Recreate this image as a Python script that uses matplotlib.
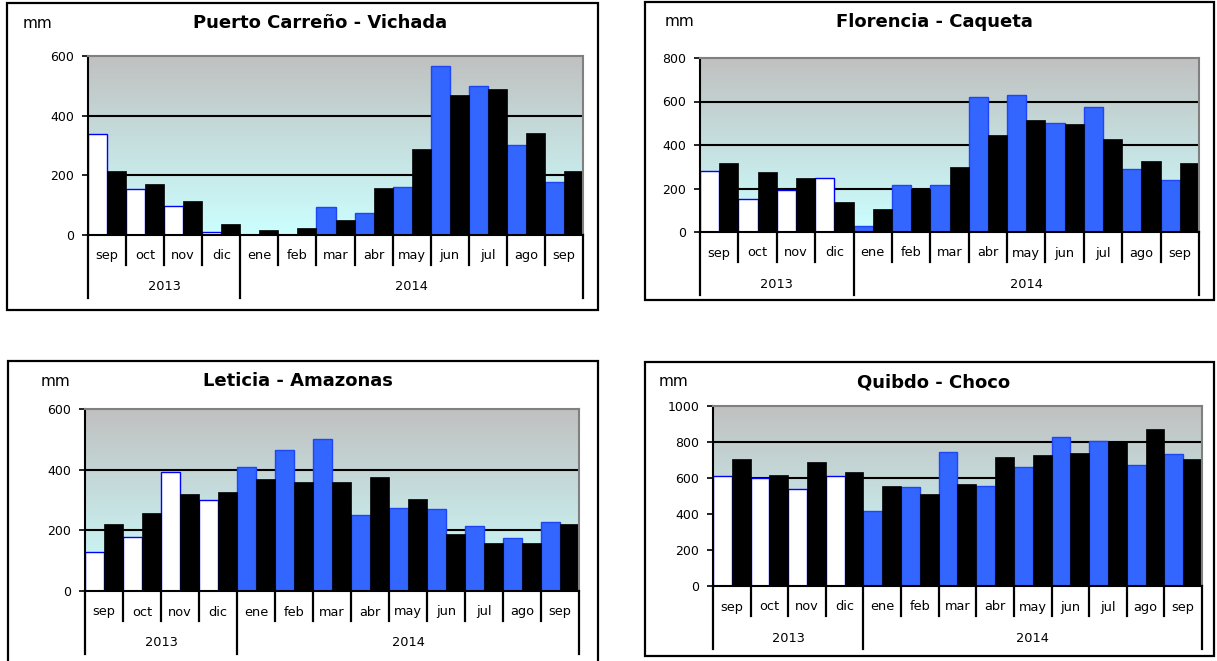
import numpy as np
import matplotlib
matplotlib.use("Agg")
import matplotlib.pyplot as plt
from matplotlib.colors import LinearSegmentedColormap
from matplotlib.patches import Rectangle

plt.rcParams['font.family'] = ['DejaVu Sans']

# Months shown on every panel (Sep 2013 - Sep 2014)
months = ["sep", "oct", "nov", "dic", "ene", "feb", "mar", "abr",
          "may", "jun", "jul", "ago", "sep"]
years = ["2013", "2014"]
months_per_year = [4, 9]

# Observed monthly rainfall (mm); first four months are the previous season
puerto_obs = [340, 154, 98, 9, 0, 0, 93, 75, 162, 568, 499, 302, 179]
puerto_avg = [215, 170, 114, 37, 17, 23, 49, 159, 289, 469, 490, 342, 215]

florencia_obs = [282, 153, 195, 247, 28, 216, 216, 622, 630, 503, 573, 290, 241]
florencia_avg = [319, 277, 248, 139, 107, 199, 300, 446, 513, 498, 428, 328, 317]

leticia_obs = [129, 179, 393, 299, 408, 465, 502, 250, 275, 269, 214, 175, 228]
leticia_avg = [221, 258, 320, 327, 370, 360, 360, 377, 304, 188, 159, 159, 221]

quibdo_obs = [609, 600, 537, 609, 417, 550, 746, 557, 661, 826, 807, 672, 735]
quibdo_avg = [704, 615, 687, 633, 554, 509, 565, 715, 726, 737, 807, 870, 704]

panels = [
    dict(title="Puerto Carreño - Vichada", obs=puerto_obs, avg=puerto_avg,
         ymax=600, step=200,
         frame=(7, 3, 598, 310), plot=(88, 56, 583, 235), title_x=320, mm_x=37),
    dict(title="Florencia - Caqueta", obs=florencia_obs, avg=florencia_avg,
         ymax=800, step=200,
         frame=(645, 2, 1214, 300), plot=(700, 58, 1199, 232), title_x=934, mm_x=680),
    dict(title="Leticia - Amazonas", obs=leticia_obs, avg=leticia_avg,
         ymax=600, step=200,
         frame=(8, 361, 598, 680), plot=(85, 409, 579, 591), title_x=298, mm_x=56),
    dict(title="Quibdo - Choco", obs=quibdo_obs, avg=quibdo_avg,
         ymax=1000, step=200,
         frame=(645, 362, 1214, 656), plot=(713, 406, 1202, 586), title_x=934, mm_x=673),
]

W, H = 1217, 661
fig = plt.figure(figsize=(W / 100, H / 100), dpi=100)
fig.patch.set_facecolor("white")

bg_cmap = LinearSegmentedColormap.from_list("bg", ["#CCFFFF", "#C0C0C0"])
BLUE = "#3366FF"
BLUE_EDGE = "#1E46F5"
WHITE_EDGE = "#0000FF"

for p in panels:
    fx0, fy0, fx1, fy1 = p["frame"]
    fig.patches.append(Rectangle((fx0 / W, 1 - fy1 / H), (fx1 - fx0) / W, (fy1 - fy0) / H,
                                 transform=fig.transFigure, fill=False,
                                 edgecolor="black", linewidth=1.6, zorder=0))

    x0, y0, x1, y1 = p["plot"]
    ph = y1 - y0
    ax = fig.add_axes([x0 / W, 1 - y1 / H, (x1 - x0) / W, ph / H])
    n = len(months)
    ax.set_xlim(-0.5, n - 0.5)
    ax.set_ylim(0, p["ymax"])

    # gradient background
    grad = np.linspace(0, 1, 256).reshape(-1, 1)
    ax.imshow(grad, cmap=bg_cmap, origin="lower", aspect="auto",
              extent=(-0.5, n - 0.5, 0, p["ymax"]), zorder=0)

    # horizontal gridlines
    for v in range(p["step"], p["ymax"], p["step"]):
        ax.axhline(v, color="black", linewidth=1.5, zorder=1)

    xs = np.arange(n)
    prev = np.arange(n) < months_per_year[0]
    for i in range(n):
        if prev[i]:
            fc, ec = "white", WHITE_EDGE
        else:
            fc, ec = BLUE, BLUE_EDGE
        ax.bar(xs[i] - 0.25, p["obs"][i], width=0.5, color=fc, edgecolor=ec,
               linewidth=1.0, zorder=2)
    ax.bar(xs + 0.25, p["avg"], width=0.5, color="black", edgecolor="black",
           linewidth=0.5, zorder=3)

    for s in ("top", "right"):
        ax.spines[s].set_color("#808080")
        ax.spines[s].set_linewidth(1.5)
    for s in ("left", "bottom"):
        ax.spines[s].set_color("black")
        ax.spines[s].set_linewidth(1.5)
    for sp in ax.spines.values():
        sp.set_zorder(5)

    ax.set_yticks(np.arange(0, p["ymax"] + 1, p["step"]))
    ax.tick_params(axis="y", direction="out", length=4, width=1.2,
                   labelsize=9, pad=6, colors="black")
    ax.set_xticks([])

    # two-level category axis
    xt = ax.get_xaxis_transform()
    month_drop = -30 / ph
    year_drop = -63 / ph
    bounds = np.cumsum([0] + months_per_year) - 0.5
    for b in np.arange(n + 1) - 0.5:
        low = year_drop if np.any(np.isclose(bounds, b)) else month_drop
        ax.plot([b, b], [0, low], transform=xt, color="black", linewidth=1.6,
                clip_on=False, zorder=6)
    for i, m in enumerate(months):
        ax.text(i, -21 / ph, m, transform=xt, ha="center", va="center",
                fontsize=9.3)
    for k, yr in enumerate(years):
        ax.text((bounds[k] + bounds[k + 1]) / 2, -52 / ph, yr, transform=xt,
                ha="center", va="center", fontsize=9.3)

    fig.text(p["title_x"] / W, 1 - (fy0 + 20) / H, p["title"], ha="center",
             va="center", fontsize=13, fontweight="bold")
    fig.text(p["mm_x"] / W, 1 - (fy0 + 20) / H, "mm", ha="center",
             va="center", fontsize=11)

fig.savefig("out.png", dpi=100)
